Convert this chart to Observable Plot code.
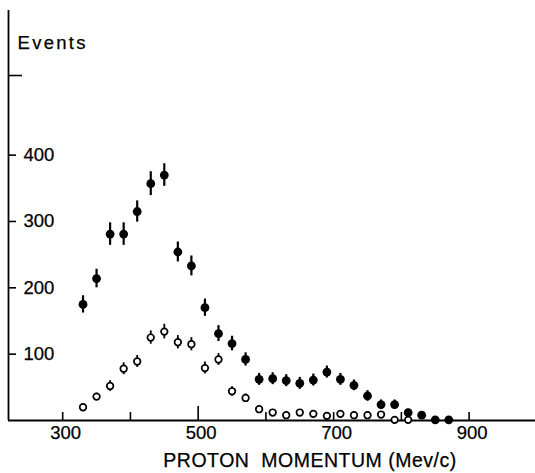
<!DOCTYPE html>
<html><head><meta charset="utf-8">
<script src="https://cdn.jsdelivr.net/npm/d3@7"></script>
<script src="https://cdn.jsdelivr.net/npm/@observablehq/plot@0.6"></script>
<style>
html,body{margin:0;padding:0;background:#fff;}
svg text{white-space:pre;}
</style></head><body><div id="chart"></div>
<script>
// Filled points (all events)
const filledMomentum = [330,350,370,390,410,430,450,470,490,510,530,550,570,590,610,630,650,670,690,710,730,750,770,790,810,830,850,870];
const filledEvents   = [175,214,281,281,315,357,370,254,233,170,131,116,92,62,63,60,56,61,73,62,53,37,24,24,12,8,1,1];
const filledErrors   = [13,14,17,17,16,18,17,15,15,13,12,11,10,9,9,9,9,9,9,9,8,8,7,7,5,4,2,2];
// Open points (selected events)
const openMomentum = [330,350,370,390,410,430,450,470,490,510,530,550,570,590,610,630,650,670,690,710,730,750,770,790,810];
const openEvents   = [20,36,52,78,89,125,134,118,115,79,92,44,34,17,12,8,12,10,7,10,8,8,9,1,1];
const openErrors   = [4,5,8,9,9,10,11,10,10,9,9,7,6,4,3,3,3,3,3,3,3,3,3,2,2];

const xMinorTicks = [300,400,600,700,800,900];
const xMajorTicks = [500];
const xTickLabels = [300,500,700,900];
const yTicks = [100,200,300,400];
const yTopTick = [520];
const yTitle = "Events";
const xTitle = "PROTON  MOMENTUM (Mev/c)";

const filled = filledMomentum.map((m,i)=>({m, v: filledEvents[i], e: filledErrors[i]}));
const open = openMomentum.map((m,i)=>({m, v: openEvents[i], e: openErrors[i]}));

const textStroke = {fill: "black", stroke: "black", strokeWidth: 0.25, paintOrder: "fill"};

const chart = Plot.plot({
  width: 535, height: 473,
  marginLeft: 8, marginRight: 0, marginTop: 10, marginBottom: 53,
  x: {domain: [220, 998], axis: null},
  y: {domain: [0, 618], axis: null},
  style: {fontFamily: "Liberation Sans", fontSize: "18.5px", color: "black", background: "white"},
  marks: [
    // axes lines
    Plot.ruleY([0], {stroke: "black", strokeWidth: 1.8}),
    Plot.ruleX([220], {y1: 0, y2: 618, stroke: "black", strokeWidth: 1.8}),
    // x ticks (pointing up, inside)
    Plot.ruleX(xMinorTicks, {x: d => d, y1: 0, y2: 0, insetBottom: 8, stroke: "black", strokeWidth: 1.6}),
    Plot.ruleX(xMajorTicks, {x: d => d, y1: 0, y2: 0, insetBottom: 14, stroke: "black", strokeWidth: 1.6}),
    // y ticks (pointing right, inside)
    Plot.ruleY(yTicks, {y: d => d, x1: 220, x2: 220, insetRight: -8, stroke: "black", strokeWidth: 1.6}),
    Plot.ruleY(yTopTick, {y: d => d, x1: 220, x2: 220, insetRight: -14, stroke: "black", strokeWidth: 1.6}),
    // tick labels
    Plot.text(yTicks, {y: d => d, text: d => String(d), frameAnchor: "left", textAnchor: "start", dx: 15, ...textStroke}),
    Plot.text(xTickLabels, {x: d => d, text: d => String(d), frameAnchor: "bottom", lineAnchor: "top", dy: 5, dx: 3, ...textStroke}),
    // titles
    Plot.text([yTitle], {text: d => d, frameAnchor: "top-left", textAnchor: "start", lineAnchor: "top", dx: 9, dy: 25, fontSize: 18.5, ...textStroke}),
    Plot.text([xTitle], {text: d => d, frameAnchor: "bottom", lineAnchor: "top", dx: 38, dy: 33, fontSize: 19.5, ...textStroke}),
    // error bars
    Plot.ruleX(filled, {x: "m", y1: d => d.v - d.e, y2: d => d.v + d.e, stroke: "black", strokeWidth: 2.2}),
    Plot.ruleX(open, {x: "m", y1: d => Math.max(0, d.v - d.e), y2: d => d.v + d.e, stroke: "black", strokeWidth: 1.8}),
    // points
    Plot.dot(open, {x: "m", y: "v", r: 3.3, fill: "white", stroke: "black", strokeWidth: 1.7}),
    Plot.dot(filled, {x: "m", y: "v", r: 4.4, fill: "black", stroke: "none"})
  ]
});
// letter spacing for the two titles
d3.select(chart).selectAll("text").each(function() {
  const t = this.textContent;
  if (t === yTitle) this.style.letterSpacing = "2.3px";
  if (t === xTitle) this.style.letterSpacing = "0.5px";
});
document.getElementById("chart").appendChild(chart);
</script></body></html>
